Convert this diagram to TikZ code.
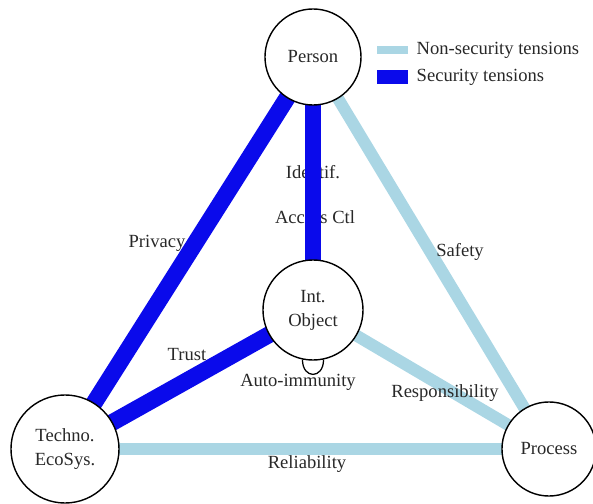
\documentclass[tikz,border=0pt]{standalone}
\usepackage{fontspec}
\setmainfont{Liberation Serif}
\usepackage{xcolor}
\usepackage{tikz}
\usetikzlibrary{positioning,calc}

\definecolor{secblue}{RGB}{10,10,235}
\definecolor{nonsecblue}{RGB}{170,214,228}
\definecolor{inkgray}{RGB}{40,40,40}

\tikzset{
    actor/.style={circle, draw, line width=1pt, fill=white, align=center, inner sep=1pt, text=inkgray},
    sec/.style={secblue, line width=12pt},
    nonsec/.style={nonsecblue, line width=8.5pt},
    lbl/.style={inner sep=1pt, text=inkgray}
}

\begin{document}
\begin{tikzpicture}[x=0.025cm, y=-0.025cm, font=\fontsize{13.2}{17}\selectfont]
    \useasboundingbox (0,0) rectangle (593,504);

    % centres
    \coordinate (p) at (313,57);
    \coordinate (o) at (313,310);
    \coordinate (t) at (65,449);
    \coordinate (r) at (549,449);

    % labels under the bar
    \node[lbl] (identif) at (313,172) {Identif.};
    \node[lbl] (access) at (315,217) {Access Ctl};

    % Security tensions
    \draw[sec] (p) -- (t);
    \draw[sec] (p) -- (o);
    \draw[sec] (o) -- (t);

    % Non-security tensions
    \draw[nonsec] (p) -- (r);
    \draw[nonsec] (o) -- (r);
    \draw[nonsec] (t) -- (r);

    % other labels
    \node[lbl] (privacy) at (157,243) {Privacy};
    \node[lbl] (safety) at (460,252) {Safety};
    \node[lbl] (trust) at (187,355) {Trust};
    \node[lbl] (resp) at (445,393) {Responsibility};
    \node[lbl] (relia) at (307,464) {Reliability};

    % circles
    \node[actor, minimum size=2.4cm] (person) at (p) {Person};
    \node[actor, minimum size=2.5cm] (intobj) at (o) {Int.\\Object};
    \node[actor, minimum size=2.7cm] (techno) at (t) {Techno.\\EcoSys.};
    \node[actor, minimum size=2.35cm] (process) at (r) {Process};

    % auto-immunity
    \draw[line width=0.9pt] (intobj.-102) to[out=-90, in=-90, looseness=2.4] (intobj.-78);
    \node[lbl] (auto) at (298,382) {Auto-immunity};

    % legend
    \coordinate (k1) at (377,50);
    \coordinate (k2) at (408,50);
    \coordinate (k3) at (377,77);
    \coordinate (k4) at (408,77);
    \draw[nonsec, line width=5pt] (k1) -- (k2);
    \draw[sec, line width=9.5pt] (k3) -- (k4);
    \node[right=5pt of k2, lbl] (nonseckey) {Non-security tensions};
    \node[right=5pt of k4, lbl] (seckey) {Security tensions};
\end{tikzpicture}
\end{document}
